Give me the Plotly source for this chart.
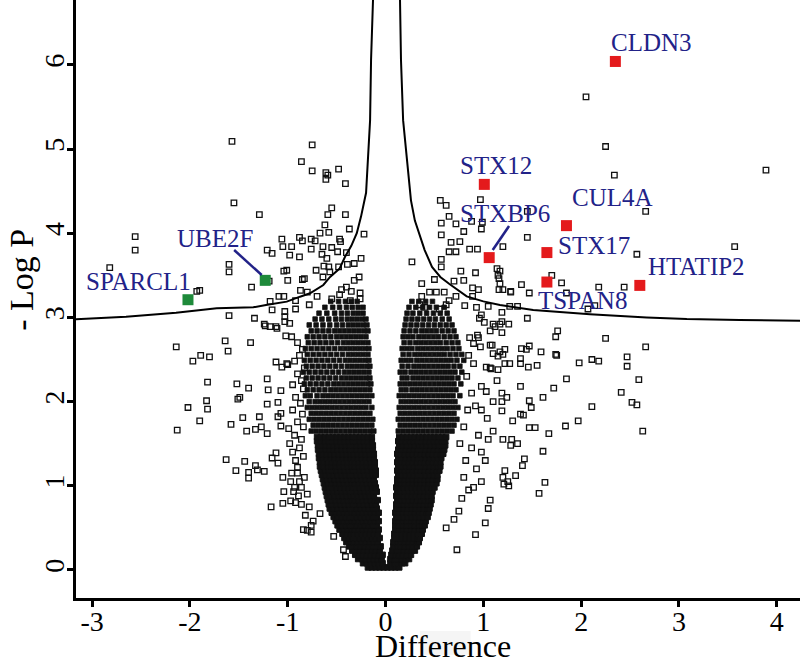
import plotly.graph_objects as go

# ---------------- data ----------------
# solid-black lower core of the volcano: (y, [x values])
dense_rows = [
    (0.03, [-.18, -.14, -.10, -.06, -.02, .02, .06, .10, .14]),
    (0.08, [-.23, -.19, -.15, -.11, -.07, -.03, .05, .09, .13, .17, .20]),
    (0.13, [-.28, -.24, -.20, -.16, -.12, -.08, -.04, .05, .09, .13, .17, .21, .24]),
    (0.18, [-.31, -.27, -.23, -.19, -.15, -.11, -.07, -.03, .06, .10, .14, .18, .22, .26]),
    (0.23, [-.34, -.30, -.26, -.22, -.18, -.14, -.10, -.06, .07, .11, .15, .19, .23, .27, .30]),
    (0.28, [-.37, -.33, -.29, -.25, -.21, -.17, -.13, -.09, -.05, .08, .12, .16, .20, .24, .28, .32]),
    (0.33, [-.40, -.36, -.32, -.28, -.24, -.20, -.16, -.12, -.08, .08, .12, .16, .20, .24, .28, .32, .34]),
    (0.38, [-.42, -.38, -.34, -.30, -.26, -.22, -.18, -.14, -.10, -.06, .09, .13, .17, .21, .25, .29, .33, .35]),
    (0.43, [-.44, -.40, -.36, -.32, -.28, -.24, -.20, -.16, -.12, -.08, .09, .13, .17, .21, .25, .29, .33, .37]),
    (0.48, [-.47, -.43, -.39, -.35, -.31, -.27, -.23, -.19, -.15, -.11, -.07, .10, .14, .18, .22, .26, .30, .34, .38]),
    (0.53, [-.49, -.45, -.41, -.37, -.33, -.29, -.25, -.21, -.17, -.13, -.09, .10, .14, .18, .22, .26, .30, .34, .38, .40]),
    (0.58, [-.51, -.47, -.43, -.39, -.35, -.31, -.27, -.23, -.19, -.15, -.11, -.07, .10, .14, .18, .22, .26, .30, .34, .38, .41]),
    (0.63, [-.53, -.49, -.45, -.41, -.37, -.33, -.29, -.25, -.21, -.17, -.13, -.09, .11, .15, .19, .23, .27, .31, .35, .39, .43]),
    (0.68, [-.55, -.51, -.47, -.43, -.39, -.35, -.31, -.27, -.23, -.19, -.15, -.11, -.07, .10, .14, .18, .22, .26, .30, .34, .38, .42, .44]),
    (0.73, [-.57, -.53, -.49, -.45, -.41, -.37, -.33, -.29, -.25, -.21, -.17, -.13, -.09, .11, .15, .19, .23, .27, .31, .35, .39, .43, .45]),
    (0.78, [-.58, -.54, -.50, -.46, -.42, -.38, -.34, -.30, -.26, -.22, -.18, -.14, -.10, .11, .15, .19, .23, .27, .31, .35, .39, .43, .46]),
    (0.83, [-.59, -.55, -.51, -.47, -.43, -.39, -.35, -.31, -.27, -.23, -.19, -.15, -.11, -.08, .12, .16, .20, .24, .28, .32, .36, .40, .44, .47]),
    (0.88, [-.60, -.56, -.52, -.48, -.44, -.40, -.36, -.32, -.28, -.24, -.20, -.16, -.12, .11, .15, .19, .23, .27, .31, .35, .39, .43, .47]),
    (0.93, [-.61, -.57, -.53, -.49, -.45, -.41, -.37, -.33, -.29, -.25, -.21, -.17, -.13, -.09, .12, .16, .20, .24, .28, .32, .36, .40, .44, .48]),
    (0.98, [-.62, -.58, -.54, -.50, -.46, -.42, -.38, -.34, -.30, -.26, -.22, -.18, -.14, -.10, .11, .15, .19, .23, .27, .31, .35, .39, .43, .47, .50]),
    (1.03, [-.63, -.59, -.55, -.51, -.47, -.43, -.39, -.35, -.31, -.27, -.23, -.19, -.15, -.11, .12, .16, .20, .24, .28, .32, .36, .40, .44, .48, .52]),
    (1.08, [-.64, -.60, -.56, -.52, -.48, -.44, -.40, -.36, -.32, -.28, -.24, -.20, -.16, -.12, .12, .16, .20, .24, .28, .32, .36, .40, .44, .48, .52, .53]),
    (1.13, [-.65, -.61, -.57, -.53, -.49, -.45, -.41, -.37, -.33, -.29, -.25, -.21, -.17, -.13, -.10, .13, .17, .21, .25, .29, .33, .37, .41, .45, .49, .53]),
    (1.18, [-.66, -.62, -.58, -.54, -.50, -.46, -.42, -.38, -.34, -.30, -.26, -.22, -.18, -.14, -.10, .12, .16, .20, .24, .28, .32, .36, .40, .44, .48, .52, .55]),
    (1.23, [-.67, -.63, -.59, -.55, -.51, -.47, -.43, -.39, -.35, -.31, -.27, -.23, -.19, -.15, -.11, .13, .17, .21, .25, .29, .33, .37, .41, .45, .49, .53, .56]),
    (1.28, [-.67, -.63, -.59, -.55, -.51, -.47, -.43, -.39, -.35, -.31, -.27, -.23, -.19, -.15, -.11, .12, .16, .20, .24, .28, .32, .36, .40, .44, .48, .52, .56]),
    (1.33, [-.68, -.64, -.60, -.56, -.52, -.48, -.44, -.40, -.36, -.32, -.28, -.24, -.20, -.16, -.12, .13, .17, .21, .25, .29, .33, .37, .41, .45, .49, .53, .57]),
    (1.38, [-.68, -.64, -.60, -.56, -.52, -.48, -.44, -.40, -.36, -.32, -.28, -.24, -.20, -.16, -.12, .12, .16, .20, .24, .28, .32, .36, .40, .44, .48, .52, .56, .59]),
    (1.43, [-.69, -.65, -.61, -.57, -.53, -.49, -.45, -.41, -.37, -.33, -.29, -.25, -.21, -.17, -.13, .13, .17, .21, .25, .29, .33, .37, .41, .45, .49, .53, .57, .60]),
    (1.48, [-.69, -.65, -.61, -.57, -.53, -.49, -.45, -.41, -.37, -.33, -.29, -.25, -.21, -.17, -.13, .14, .18, .22, .26, .30, .34, .38, .42, .46, .50, .54, .58, .61]),
    (1.53, [-.70, -.66, -.62, -.58, -.54, -.50, -.46, -.42, -.38, -.34, -.30, -.26, -.22, -.18, -.14, .13, .17, .21, .25, .29, .33, .37, .41, .45, .49, .53, .57, .61]),
    (1.58, [-.70, -.66, -.62, -.58, -.54, -.50, -.46, -.42, -.38, -.34, -.30, -.26, -.22, -.18, -.14, .14, .18, .22, .26, .30, .34, .38, .42, .46, .50, .54, .58, .62]),
]

# crowded but not solid upper part of the two lobes: (y, [x values])
mid_rows = [
    (1.65, [-.76, -.71, -.66, -.61, -.56, -.51, -.46, -.41, -.36, -.31, -.26, -.21, -.16, -.12, .13, .18, .23, .28, .33, .38, .43, .48, .53, .58, .63, .68]),
    (1.72, [-.74, -.69, -.64, -.59, -.54, -.49, -.44, -.39, -.34, -.29, -.24, -.19, -.14, .15, .20, .25, .30, .35, .40, .45, .50, .55, .60, .65, .70]),
    (1.79, [-.78, -.73, -.68, -.63, -.58, -.53, -.48, -.43, -.38, -.33, -.28, -.23, -.18, -.13, .13, .18, .23, .28, .33, .38, .43, .48, .53, .58, .63, .68, .73]),
    (1.86, [-.76, -.71, -.66, -.61, -.56, -.51, -.46, -.41, -.36, -.31, -.26, -.21, -.16, .15, .20, .25, .30, .35, .40, .45, .50, .55, .60, .65, .70]),
    (1.93, [-.80, -.75, -.70, -.65, -.60, -.55, -.50, -.45, -.40, -.35, -.30, -.25, -.20, -.14, .14, .19, .24, .29, .34, .39, .44, .49, .54, .59, .64, .69, .74]),
    (2.00, [-.78, -.72, -.67, -.62, -.57, -.52, -.47, -.42, -.37, -.32, -.27, -.22, -.17, .16, .21, .26, .31, .36, .41, .46, .51, .56, .61, .66, .71]),
    (2.07, [-.82, -.77, -.70, -.64, -.59, -.54, -.49, -.44, -.39, -.34, -.29, -.24, -.19, -.14, .14, .19, .24, .29, .34, .39, .44, .49, .54, .59, .64, .69, .76]),
    (2.14, [-.80, -.74, -.68, -.62, -.56, -.51, -.46, -.41, -.36, -.31, -.26, -.21, -.16, .16, .21, .27, .32, .37, .42, .47, .52, .57, .62, .67, .72]),
    (2.21, [-.83, -.77, -.71, -.65, -.59, -.53, -.48, -.43, -.38, -.33, -.28, -.23, -.18, -.15, .15, .20, .25, .30, .35, .40, .45, .50, .55, .60, .65, .70, .77]),
    (2.28, [-.81, -.75, -.69, -.63, -.57, -.51, -.45, -.40, -.35, -.30, -.25, -.20, -.16, .17, .22, .28, .33, .38, .43, .48, .53, .58, .63, .68, .74]),
    (2.35, [-.84, -.78, -.72, -.66, -.60, -.54, -.48, -.42, -.37, -.32, -.27, -.22, -.17, .15, .20, .26, .31, .36, .41, .46, .51, .56, .61, .66, .71, .78]),
    (2.42, [-.81, -.75, -.69, -.63, -.57, -.51, -.45, -.39, -.34, -.29, -.24, -.19, -.16, .17, .23, .29, .34, .39, .44, .49, .54, .59, .64, .70, .76]),
    (2.49, [-.83, -.77, -.71, -.65, -.59, -.53, -.47, -.41, -.36, -.31, -.26, -.21, -.17, .16, .21, .26, .32, .37, .42, .47, .52, .57, .62, .67, .73, .80]),
    (2.56, [-.80, -.74, -.68, -.62, -.56, -.50, -.44, -.38, -.33, -.28, -.23, -.18, .18, .24, .30, .35, .40, .45, .50, .55, .60, .66, .72, .78]),
    (2.63, [-.82, -.76, -.70, -.64, -.58, -.52, -.46, -.41, -.36, -.31, -.26, -.21, -.17, .17, .22, .27, .33, .38, .43, .48, .53, .58, .63, .69, .75]),
    (2.70, [-.79, -.73, -.67, -.61, -.55, -.49, -.43, -.38, -.33, -.28, -.23, -.18, .19, .25, .31, .36, .41, .46, .51, .56, .62, .68, .74]),
    (2.77, [-.80, -.74, -.68, -.62, -.56, -.50, -.45, -.40, -.35, -.30, -.25, -.20, .18, .23, .28, .34, .39, .44, .49, .54, .60, .66, .72]),
    (2.84, [-.76, -.70, -.64, -.58, -.52, -.47, -.42, -.37, -.32, -.27, -.22, -.18, .19, .25, .31, .37, .42, .47, .52, .58, .64, .70]),
    (2.91, [-.78, -.71, -.64, -.57, -.50, -.44, -.38, -.33, -.28, -.23, -.19, .20, .26, .32, .38, .44, .50, .56, .62, .68]),
    (2.98, [-.72, -.65, -.58, -.51, -.45, -.39, -.34, -.29, -.24, -.20, .21, .27, .33, .39, .45, .51, .58, .65]),
    (3.05, [-.68, -.60, -.52, -.45, -.39, -.33, -.28, -.23, .22, .28, .35, .42, .49, .56, .63]),
    (3.12, [-.62, -.54, -.47, -.40, -.34, -.28, -.23, .24, .31, .38, .45, .52, .60]),
    (3.19, [-.56, -.48, -.41, -.35, -.29, .27, .34, .41, .48]),
]

# scattered points outside the core: (difference, -log p)
fringe_points = [
    (-1.57, 5.09), (-0.86, 4.85), (-1.55, 4.36), (-1.29, 4.22), (-2.56, 3.96), (-2.56, 3.80),
    (-2.82, 3.59), (-1.60, 3.63), (-1.60, 3.54), (-1.93, 3.31), (-1.90, 3.32), (-1.37, 3.36),
    (-1.60, 3.02), (-1.34, 2.99), (-1.06, 3.93), (-1.05, 3.84), (-0.96, 3.84), (-1.21, 3.80),
    (-1.16, 3.76), (-0.98, 3.74), (-0.88, 3.72), (-0.88, 3.95), (-0.85, 3.91), (-1.04, 3.55),
    (-1.00, 3.44), (-1.19, 3.43), (-0.85, 3.45), (-0.87, 3.32), (-1.09, 3.25), (-1.04, 3.25),
    (-1.18, 3.19), (-1.16, 3.09), (-1.03, 3.07), (-1.03, 3.01), (-1.23, 2.90), (-1.12, 2.89),
    (-0.92, 3.10), (-1.01, 3.56),
    (-2.14, 2.65), (-1.64, 2.72), (-1.61, 2.60), (-1.38, 2.70), (-1.97, 2.48), (-1.89, 2.55),
    (-1.80, 2.53), (-1.82, 2.23), (-1.52, 2.21), (-1.40, 2.16), (-1.21, 2.27), (-1.20, 2.14),
    (-1.07, 2.13), (-1.12, 2.47), (-1.06, 2.41), (-1.00, 2.44), (-0.93, 2.48), (-1.02, 2.78),
    (-0.96, 2.77), (-1.83, 2.01), (-1.82, 1.91), (-2.02, 1.93), (-1.90, 1.77), (-2.13, 1.66),
    (-1.51, 2.03), (-1.49, 2.05), (-1.46, 1.81), (-1.58, 1.73), (-1.42, 1.65), (-1.33, 1.67),
    (-1.27, 1.70), (-1.29, 1.82), (-1.21, 1.62), (-1.21, 1.97), (-1.10, 1.99), (-1.10, 1.82),
    (-1.07, 1.86), (-1.07, 1.71), (-0.99, 1.68), (-1.63, 1.31), (-1.44, 1.29), (-1.53, 1.18),
    (-1.40, 1.16), (-1.40, 1.09), (-1.33, 1.24), (-1.31, 1.19), (-1.24, 1.17), (-1.16, 1.33),
    (-1.12, 1.39), (-1.10, 1.27), (-1.05, 1.10), (-1.04, 0.93), (-0.94, 0.93), (-0.93, 0.98),
    (-1.17, 0.75), (-1.05, 0.79), (-0.97, 0.82), (-0.92, 0.80), (-0.86, 0.78), (-0.84, 0.48),
    (-0.96, 1.15), (-0.90, 1.22), (-0.92, 1.30), (-0.88, 1.05),
    (-0.90, 2.70), (-0.85, 2.62), (-0.88, 2.55), (-0.83, 2.40), (-0.90, 2.33), (-0.86, 2.25),
    (-0.95, 2.20), (-0.84, 2.15), (-0.92, 2.05), (-0.87, 1.98), (-0.95, 1.90), (-0.85, 1.85),
    (-0.90, 1.76), (-0.84, 1.70), (-0.93, 1.60), (-0.86, 1.55), (-0.98, 1.50), (-0.88, 1.45),
    (-0.95, 1.40), (-0.84, 1.35), (-0.90, 1.15), (-0.83, 1.10), (-0.97, 1.05), (-0.86, 0.98),
    (-0.80, 0.90), (-0.89, 0.88), (-0.78, 0.75), (-0.82, 0.65), (-0.74, 0.58), (-0.80, 0.47),
    (-0.76, 0.53), (-0.76, 0.45), (-0.67, 0.67), (-0.53, 0.40), (-0.43, 0.24), (-0.41, 0.16),
    (-1.24, 2.92), (-1.18, 2.89), (-1.11, 2.87), (-1.03, 2.95), (-0.98, 2.93), (-1.01, 2.45),
    (-0.75, 5.05), (-0.75, 4.74), (-0.61, 4.72), (-0.59, 4.69), (-0.61, 4.64), (-0.48, 4.76),
    (-0.41, 4.59), (-0.55, 4.30), (-0.59, 4.22), (-0.62, 4.10), (-0.58, 4.01), (-0.67, 4.00),
    (-0.41, 4.22), (-0.37, 4.05), (-0.22, 3.99), (-0.76, 3.93), (-0.72, 3.91), (-0.76, 3.81),
    (-0.64, 3.84), (-0.55, 3.83), (-0.47, 3.93), (-0.46, 3.90), (-0.49, 3.78), (-0.40, 3.77),
    (-0.65, 3.75), (-0.60, 3.70), (-0.63, 3.61), (-0.58, 3.60), (-0.57, 3.54), (-0.71, 3.56),
    (-0.64, 3.48), (-0.83, 3.46), (-0.48, 3.60), (-0.39, 3.63), (-0.32, 3.64), (-0.25, 3.70),
    (-0.32, 3.44), (-0.27, 3.48), (-0.40, 3.36), (-0.45, 3.33), (-0.35, 3.31), (-0.26, 3.29),
    (-0.80, 3.30), (-0.70, 3.25), (-0.55, 3.22), (-0.47, 3.27), (-0.36, 3.20), (-0.26, 3.22),
    (-0.92, 3.20), (-0.78, 3.15),
    (2.05, 5.62), (2.25, 5.03), (2.34, 4.69), (3.89, 4.75), (2.66, 4.26), (3.57, 3.84),
    (2.57, 3.75), (1.45, 4.26),
    (0.56, 4.39), (0.62, 4.33), (0.65, 4.20), (0.57, 4.12), (0.72, 4.11), (0.80, 4.02),
    (0.57, 3.98), (0.67, 3.89), (0.76, 3.90), (0.65, 3.78), (0.72, 3.78), (0.57, 3.69),
    (0.57, 3.60), (0.77, 3.55), (0.92, 3.53), (0.88, 4.14), (0.97, 4.40), (0.99, 4.13),
    (0.98, 4.05), (0.86, 3.81), (0.94, 3.81), (1.20, 3.84), (1.17, 3.55), (1.16, 3.46),
    (1.16, 3.33), (1.20, 3.33), (0.80, 3.44), (0.89, 3.35), (0.95, 3.33), (0.70, 3.43),
    (0.27, 3.66), (1.45, 3.95), (1.14, 3.58), (1.15, 3.50), (1.17, 3.40), (1.28, 3.31),
    (1.39, 3.39), (1.70, 3.50), (1.80, 3.41), (2.18, 3.36), (2.44, 3.36), (1.28, 3.30),
    (1.47, 3.29), (1.85, 3.29), (1.27, 3.13), (1.35, 3.13), (2.07, 3.10), (2.14, 3.14),
    (1.05, 3.13), (0.81, 3.14), (0.93, 3.12), (0.89, 3.25), (0.98, 3.03), (1.10, 2.92),
    (1.17, 2.92), (1.26, 2.92), (1.45, 2.99), (1.19, 3.06), (1.19, 2.95), (1.19, 2.82),
    (0.37, 3.40), (0.37, 3.25), (0.35, 3.15), (0.45, 3.30), (0.50, 3.45), (0.52, 3.30),
    (0.60, 3.30), (0.62, 3.15), (0.55, 3.10), (0.40, 3.12), (0.65, 3.20), (0.72, 3.25),
    (1.76, 2.84), (1.74, 2.77), (2.25, 2.75), (2.66, 2.65), (1.47, 2.66), (1.44, 2.62),
    (1.22, 2.62), (1.20, 2.56), (1.38, 2.51), (1.38, 2.45), (1.22, 2.45), (1.27, 2.45),
    (1.59, 2.59), (1.74, 2.56), (1.55, 2.43), (1.98, 2.46), (2.11, 2.50), (2.18, 2.48),
    (2.47, 2.53), (2.47, 2.42), (1.85, 2.27), (2.59, 2.26), (1.38, 2.18), (1.72, 2.16),
    (1.19, 2.10), (1.24, 2.05), (1.19, 2.00), (1.19, 1.89), (1.61, 2.05), (1.47, 2.01),
    (1.49, 1.93), (2.41, 2.11), (2.52, 1.99), (2.57, 1.96), (2.11, 1.94), (1.38, 1.85),
    (1.41, 1.84), (1.30, 1.77), (1.47, 1.69), (1.53, 1.69), (1.67, 1.62), (1.84, 1.71),
    (1.97, 1.77), (2.63, 1.65), (1.20, 1.55), (1.29, 1.55), (1.28, 1.48), (1.35, 1.50),
    (1.61, 1.41), (1.42, 1.32), (1.40, 1.24), (1.22, 1.18), (1.20, 1.10), (1.25, 1.05),
    (1.33, 1.12), (1.21, 1.02), (1.26, 1.00), (1.63, 1.04), (1.57, 0.91), (1.75, 2.55),
    (1.39, 2.63), (1.46, 2.41), (1.17, 2.59), (1.15, 2.54), (1.07, 2.67),
    (0.96, 2.99), (1.01, 2.94), (1.12, 2.89), (1.07, 2.84), (0.94, 2.79), (0.95, 2.76),
    (0.86, 2.76), (0.97, 2.65), (1.07, 2.40), (1.15, 2.38),
    (0.90, 2.69), (1.09, 2.67), (1.10, 2.57), (1.03, 2.41), (1.08, 2.39), (1.14, 2.25),
    (0.98, 2.18), (1.03, 2.12), (1.10, 2.00), (0.92, 1.95), (0.98, 1.90), (1.04, 1.80),
    (1.10, 1.65), (1.05, 1.55), (0.95, 1.60), (0.88, 1.45), (0.98, 1.40), (1.02, 1.30),
    (0.93, 1.20), (0.98, 1.05), (0.90, 0.98), (1.07, 0.83), (1.05, 0.73), (1.02, 0.56),
    (0.92, 0.42), (0.73, 0.24), (0.80, 1.10), (0.85, 0.95), (0.78, 0.85), (0.70, 0.60),
    (0.62, 0.50), (0.75, 0.70), (0.82, 1.30), (0.76, 1.50), (0.80, 1.70), (0.84, 1.90),
    (0.88, 2.10), (0.83, 2.30), (0.90, 2.45), (0.85, 2.55),
]

# highlighted proteins
up_genes = ["CLDN3", "STX12", "CUL4A", "STXBP6", "STX17", "TSPAN8", "HTATIP2"]
up_x = [2.35, 1.01, 1.85, 1.06, 1.65, 1.65, 2.60]
up_y = [6.04, 4.58, 4.09, 3.71, 3.77, 3.42, 3.38]
down_genes = ["UBE2F", "SPARCL1"]
down_x = [-1.23, -2.02]
down_y = [3.44, 3.21]

# significance threshold curve (two branches)
curve_left_x = [-0.128, -0.148, -0.158, -0.18, -0.199, -0.25, -0.294, -0.35, -0.414, -0.47,
                -0.567, -0.636, -0.772, -0.874, -1.01, -1.222, -1.352, -1.726, -2.142, -2.653, -3.165]
curve_left_y = [6.77, 6.06, 5.34, 4.85, 4.48, 4.20, 4.00, 3.85, 3.72, 3.58,
                3.48, 3.385, 3.286, 3.246, 3.187, 3.147, 3.12, 3.108, 3.056, 3.008, 2.977]
curve_right_x = [0.148, 0.158, 0.18, 0.21, 0.24, 0.26, 0.30, 0.34, 0.40, 0.475, 0.56, 0.65,
                 0.74, 0.83, 1.00, 1.17, 1.51, 2.09, 2.67, 3.08, 3.62, 4.24]
curve_right_y = [6.77, 6.06, 5.34, 4.95, 4.59, 4.39, 4.15, 4.00, 3.80, 3.60, 3.48, 3.40,
                 3.32, 3.25, 3.19, 3.147, 3.088, 3.037, 3.00, 2.98, 2.97, 2.96]

x_ticks = [-3, -2, -1, 0, 1, 2, 3, 4]
y_ticks = [0, 1, 2, 3, 4, 5, 6]

# label placement (label centre, in data units) for each highlighted protein
label_pos = {
    "CLDN3": (2.715, 6.26), "STX12": (1.125, 4.81), "CUL4A": (2.316, 4.42),
    "STXBP6": (1.222, 4.24), "STX17": (2.127, 3.85), "HTATIP2": (3.175, 3.61),
    "TSPAN8": (2.01, 3.195), "UBE2F": (-1.748, 3.94), "SPARCL1": (-2.53, 3.43),
}
leader_lines = [((1.263, 4.085), (1.096, 3.80)), ((-1.548, 3.80), (-1.266, 3.503))]

# ---------------- figure ----------------
def flatten(rows):
    xs_out, ys_out = [], []
    for yv, xs in rows:
        for xv in xs:
            xs_out.append(xv)
            ys_out.append(yv)
    return xs_out, ys_out

dense_x, dense_y = flatten(dense_rows)
mid_x, mid_y = flatten(mid_rows)
fringe_x = [p[0] for p in fringe_points]
fringe_y = [p[1] for p in fringe_points]

SERIF = "Liberation Serif, Times New Roman, serif"
NAVY = "#222288"
INK = "#111111"

fig = go.Figure()
fig.add_trace(go.Scatter(
    x=dense_x, y=dense_y, mode="markers",
    marker=dict(symbol="square", size=5.5, color=INK, line=dict(width=1, color=INK)),
    hoverinfo="skip"))
fig.add_trace(go.Scatter(
    x=mid_x, y=mid_y, mode="markers",
    marker=dict(symbol="square", size=4.6, color=INK, line=dict(width=0.8, color=INK)),
    hoverinfo="skip"))
fig.add_trace(go.Scatter(
    x=fringe_x, y=fringe_y, mode="markers",
    marker=dict(symbol="square-open", size=5.5, color=INK, line=dict(width=1.3, color=INK)),
    hoverinfo="skip"))
fig.add_trace(go.Scatter(x=curve_left_x, y=curve_left_y, mode="lines",
                         line=dict(color="black", width=2), hoverinfo="skip"))
fig.add_trace(go.Scatter(x=curve_right_x, y=curve_right_y, mode="lines",
                         line=dict(color="black", width=2), hoverinfo="skip"))
fig.add_trace(go.Scatter(x=up_x, y=up_y, mode="markers", text=up_genes,
                         marker=dict(symbol="square", size=11, color="#e41a1c")))
fig.add_trace(go.Scatter(x=down_x, y=down_y, mode="markers", text=down_genes,
                         marker=dict(symbol="square", size=11, color="#1e8a3a")))

annotations = []
for g in up_genes + down_genes:
    lx, ly = label_pos[g]
    annotations.append(dict(x=lx, y=ly, xref="x", yref="y", text=g, showarrow=False,
                            xanchor="center", yanchor="middle",
                            font=dict(family=SERIF, size=25, color=NAVY)))
annotations.append(dict(x=0.507, y=-0.081, xref="paper", yref="paper", text="Difference",
                        showarrow=False, xanchor="center", yanchor="middle",
                        font=dict(family=SERIF, size=32, color="black")))
annotations.append(dict(x=-0.0746, y=0.532, xref="paper", yref="paper", text="- Log P",
                        showarrow=False, xanchor="center", yanchor="middle", textangle=-90,
                        font=dict(family=SERIF, size=34, color="black")))

shapes = []
for (x0, y0), (x1, y1) in leader_lines:
    shapes.append(dict(type="line", xref="x", yref="y", x0=x0, y0=y0, x1=x1, y1=y1,
                       line=dict(color=NAVY, width=2.5)))
shapes.append(dict(type="rect", xref="paper", yref="paper", x0=0.475, x1=0.545,
                   y0=-0.095, y1=-0.055, fillcolor="#f5f5f5", line=dict(width=0), layer="below"))

fig.update_layout(
    width=800, height=664, margin=dict(l=76, r=0, t=0, b=66),
    plot_bgcolor="white", paper_bgcolor="white", showlegend=False,
    annotations=annotations, shapes=shapes,
    xaxis=dict(range=[-3.165, 4.238], tickvals=x_ticks, ticktext=[str(v) for v in x_ticks],
               showgrid=False, zeroline=False, showline=True, linecolor="black", linewidth=2.5,
               ticks="outside", ticklen=6, tickwidth=2.5, tickcolor="black", automargin=False,
               ticklabelstandoff=-9,
               tickfont=dict(family=SERIF, size=28, color="black")),
    yaxis=dict(range=[-0.333, 6.77], tickvals=y_ticks, ticktext=[str(v) for v in y_ticks],
               showgrid=False, zeroline=False, showline=True, linecolor="black", linewidth=2.5,
               ticks="outside", ticklen=6, tickwidth=2.5, tickcolor="black", tickangle=-90,
               automargin=False, ticklabelstandoff=-8,
               tickfont=dict(family=SERIF, size=28, color="black")),
)

fig.write_html("out.html", post_script="document.body.style.margin='0';",
               config={"displayModeBar": False})
